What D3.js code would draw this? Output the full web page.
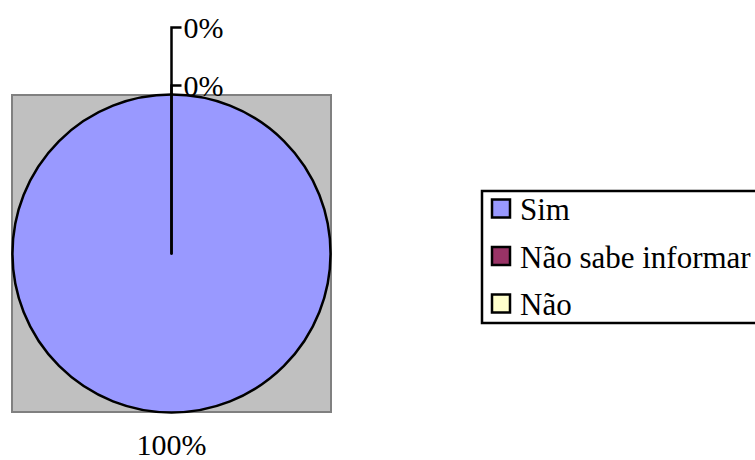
<!DOCTYPE html>
<html>
<head>
<meta charset="utf-8">
<script src="https://cdn.jsdelivr.net/npm/d3@7/dist/d3.min.js"></script>
<style>
  html, body { margin: 0; padding: 0; background: #ffffff; }
  svg { display: block; }
</style>
</head>
<body>
<svg id="chart" width="755" height="460"></svg>
<script>
// Answer categories and their shares (%)
const categories = ["Sim", "Não sabe informar", "Não"];
const values = [100, 0, 0];
const colors = ["#9999FF", "#993366", "#FFFFCC"];

const svg = d3.select("#chart");
const fontFamily = "Liberation Serif";
const fontSize = 30;

// Plot area (grey square behind the pie)
const plot = { x: 12, y: 95, w: 319, h: 317 };
svg.append("rect")
  .attr("x", plot.x).attr("y", plot.y)
  .attr("width", plot.w).attr("height", plot.h)
  .attr("fill", "#C0C0C0")
  .attr("stroke", "#808080")
  .attr("stroke-width", 2);

const cx = plot.x + plot.w / 2;
const cy = plot.y + plot.h / 2;
const radius = 159;

const data = categories.map((c, i) => ({ category: c, value: values[i], color: colors[i] }));

const pie = d3.pie().sort(null).value(d => d.value);
const arcs = pie(data);
const arc = d3.arc().innerRadius(0).outerRadius(radius);

const g = svg.append("g").attr("transform", `translate(${cx},${cy})`);

g.selectAll("path.slice")
  .data(arcs)
  .join("path")
  .attr("class", "slice")
  .attr("d", arc)
  .attr("fill", d => d.data.color)
  .attr("stroke", "#000")
  .attr("stroke-width", 2.5)
  .attr("stroke-linejoin", "round");

// Percentage labels
const fmt = v => d3.format(".0f")(v) + "%";
let zeroCount = 0;
arcs.forEach(a => {
  const mid = (a.startAngle + a.endAngle) / 2;
  const py = -Math.cos(mid) * radius;
  if (a.value > 0) {
    const lr = radius + 32;
    g.append("text")
      .attr("x", Math.sin(mid) * lr)
      .attr("y", -Math.cos(mid) * lr)
      .attr("text-anchor", "middle")
      .attr("dominant-baseline", "central")
      .style("font-family", fontFamily)
      .style("font-size", fontSize + "px")
      .attr("fill", "#000")
      .text(fmt(a.value));
  } else {
    // zero slices stack their labels above the pie with leader lines
    const ly = py - 9 - zeroCount * 58;
    const x0 = Math.sin(mid) * radius;
    g.append("path")
      .attr("d", d3.line()([[x0, py], [x0, ly], [x0 + 10, ly]]))
      .attr("fill", "none")
      .attr("stroke", "#000")
      .attr("stroke-width", 2.5);
    g.append("text")
      .attr("x", x0 + 12)
      .attr("y", ly)
      .attr("dominant-baseline", "central")
      .style("font-family", fontFamily)
      .style("font-size", fontSize + "px")
      .attr("fill", "#000")
      .text(fmt(a.value));
    zeroCount++;
  }
});

// Legend
const legend = svg.append("g").attr("transform", "translate(482,191)");
legend.append("rect")
  .attr("x", 0).attr("y", 0)
  .attr("width", 300).attr("height", 132)
  .attr("fill", "#fff")
  .attr("stroke", "#000")
  .attr("stroke-width", 2.5);

const rows = legend.selectAll("g.item")
  .data(data)
  .join("g")
  .attr("class", "item")
  .attr("transform", (d, i) => `translate(9,${17.5 + i * 47.5})`);

rows.append("rect")
  .attr("x", 1).attr("y", -9)
  .attr("width", 18).attr("height", 18)
  .attr("fill", d => d.color)
  .attr("stroke", "#000")
  .attr("stroke-width", 2.5);

rows.append("text")
  .attr("x", 29)
  .attr("y", 1)
  .attr("dominant-baseline", "central")
  .style("font-family", fontFamily)
  .style("font-size", "31px")
  .attr("fill", "#000")
  .text(d => d.category);
</script>
</body>
</html>
